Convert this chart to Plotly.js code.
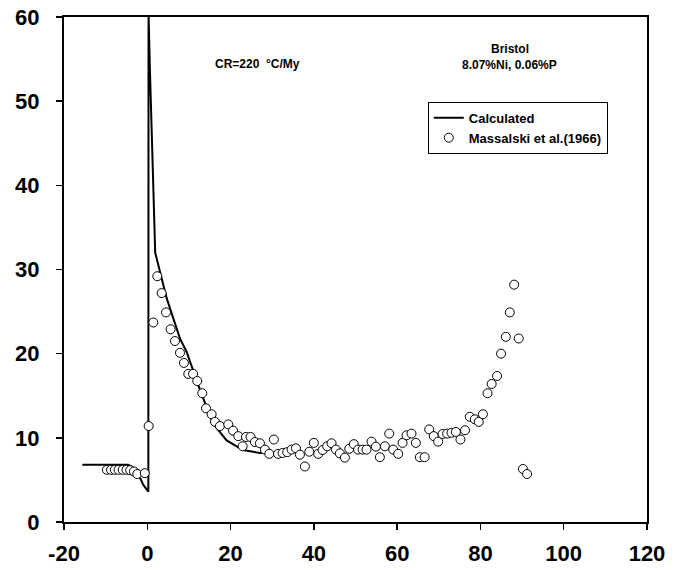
<!DOCTYPE html>
<html>
<head>
<meta charset="utf-8">
<script src="https://cdn.plot.ly/plotly-3.0.1.min.js"></script>
<style>html,body{margin:0;padding:0;background:#fff;}#chart{width:676px;height:570px;}</style>
</head>
<body>
<div id="chart"></div>
<script>
// Calculated profile
var calcX = [-15.6, -4.6, -3.5, -2.55, -1.7, -0.95, 0.25, 0.3, 0.6, 0.9, 1.3, 1.6, 1.9, 4.65, 7.85, 9.45, 12.65, 15.8, 19.05, 23.0, 27.0, 28.7];
var calcY = [6.8, 6.8, 6.5, 5.9, 5.2, 4.4, 3.6, 60.5, 54.3, 48.6, 43.0, 37.0, 32.0, 26.6, 21.8, 20.2, 15.7, 11.7, 9.7, 8.55, 8.2, 8.3];

// Massalski et al. (1966) measurements
var obsX = [-9.7, -8.7, -7.8, -6.9, -5.9, -5.0, -4.1, -3.2, -2.4, -0.6, 0.33,
  1.45, 2.4, 3.45, 4.5, 5.6, 6.65, 7.85, 8.8, 9.85, 11.0, 12.0, 13.2, 14.1, 15.45, 16.25, 17.45, 19.45,
  20.6, 21.85, 22.9, 23.7, 24.8, 25.85, 27.05, 28.25, 29.3, 30.4, 31.4, 32.5, 33.6, 34.65, 35.7, 36.65,
  37.85, 38.9, 40.0, 41.05, 42.1, 43.2, 44.25, 45.3, 46.25, 47.45, 48.5, 49.6, 50.6, 51.7, 52.65, 53.85,
  54.9, 55.85, 57.05, 58.1, 59.05, 60.25, 61.3, 62.25, 63.45, 64.5, 65.45, 66.6, 67.7, 68.8, 69.85, 70.9,
  72.0, 73.05, 74.1, 75.2, 76.3, 77.45, 78.65, 79.6, 80.6, 81.7, 82.7, 84.0, 84.95, 86.1, 87.05, 88.1,
  89.2, 90.2, 91.2];
var obsY = [6.2, 6.2, 6.2, 6.2, 6.2, 6.2, 6.15, 6.0, 5.7, 5.8, 11.4,
  23.7, 29.2, 27.2, 24.9, 22.9, 21.5, 20.1, 18.9, 17.6, 17.6, 16.75, 15.3, 13.5, 12.8, 11.9, 11.4, 11.6,
  10.85, 10.2, 9.0, 10.1, 10.1, 9.5, 9.35, 8.6, 8.1, 9.8, 8.1, 8.2, 8.3, 8.6, 8.75, 8.0,
  6.6, 8.35, 9.4, 8.1, 8.55, 9.0, 9.35, 8.6, 8.15, 7.65, 8.7, 9.25, 8.6, 8.6, 8.6, 9.55,
  8.95, 7.7, 9.0, 10.5, 8.6, 8.1, 9.4, 10.3, 10.5, 9.4, 7.7, 7.7, 11.0, 10.2, 9.55, 10.45,
  10.5, 10.6, 10.7, 9.8, 10.9, 12.5, 12.2, 11.9, 12.8, 15.3, 16.4, 17.35, 20.0, 22.0, 24.9, 28.2,
  21.8, 6.3, 5.7];

var xTicks = [-20, 0, 20, 40, 60, 80, 100, 120];
var xTickText = ['-20', '0', '20', '40', '60', '80', '100', '120'];
var yTicks = [0, 10, 20, 30, 40, 50, 60];
var yTickText = ['0', '10', '20', '30', '40', '50', '60'];

var fontFam = 'Arial, "Liberation Sans", sans-serif';

var traces = [
  {
    x: calcX, y: calcY, type: 'scatter', mode: 'lines', name: 'Calculated',
    line: {color: '#000', width: 2}
  },
  {
    x: obsX, y: obsY, type: 'scatter', mode: 'markers', name: 'Massalski et al.(1966)',
    marker: {symbol: 'circle', size: 9, color: '#fff', line: {color: '#000', width: 1}}
  }
];

var axisCommon = {
  showgrid: false, zeroline: false, showline: true, linecolor: '#000', linewidth: 2,
  mirror: true, ticks: 'outside', ticklen: 6, tickwidth: 1.5, tickcolor: '#000',
  tickfont: {family: fontFam, size: 22, color: '#000', weight: 'bold'}
};

var layout = {
  width: 676, height: 570,
  margin: {l: 64, r: 29, t: 17, b: 48},
  paper_bgcolor: '#fff', plot_bgcolor: '#fff',
  showlegend: true,
  legend: {
    x: 0.624, y: 0.832, xanchor: 'left', yanchor: 'top',
    bordercolor: '#000', borderwidth: 1, bgcolor: '#fff',
    font: {family: fontFam, size: 13, color: '#000', weight: 'bold'}
  },
  xaxis: Object.assign({}, axisCommon, {range: [-20, 120], tickvals: xTicks, ticktext: xTickText, ticklabelstandoff: 5}),
  yaxis: Object.assign({}, axisCommon, {range: [0, 60], tickvals: yTicks, ticktext: yTickText, ticklabelstandoff: 12}),
  annotations: [
    {xref: 'x', yref: 'paper', x: 26.5, y: (522 - 55) / 505, text: 'CR=220  \u00B0C/My', showarrow: false,
     font: {family: fontFam, size: 12, color: '#000', weight: 'bold'}},
    {xref: 'x', yref: 'paper', x: 87, y: (522 - 40) / 505, text: 'Bristol', showarrow: false,
     font: {family: fontFam, size: 12, color: '#000', weight: 'bold'}},
    {xref: 'x', yref: 'paper', x: 87, y: (522 - 56) / 505, text: '8.07%Ni, 0.06%P', showarrow: false,
     font: {family: fontFam, size: 12, color: '#000', weight: 'bold'}}
  ]
};

Plotly.newPlot('chart', traces, layout, {displayModeBar: false, staticPlot: true});
</script>
</body>
</html>
